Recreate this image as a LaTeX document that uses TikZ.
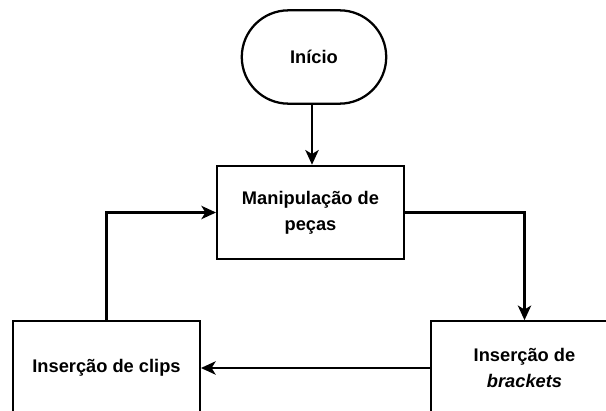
\documentclass[tikz,border=0pt]{standalone}
\usepackage{fontspec}
\setmainfont{Liberation Sans}
\usepackage{tikz}
\usetikzlibrary{shapes.misc,arrows.meta}

\begin{document}
\begin{tikzpicture}[x=0.75pt, y=-0.75pt,
    box/.style={shape=rectangle, draw, line width=1.7pt, minimum width=140pt, minimum height=70pt, align=center, font=\fontsize{13.7}{19.5}\selectfont\bfseries},
    term/.style={shape=rounded rectangle, draw, line width=1.7pt, minimum width=115pt, minimum height=70pt, font=\fontsize{13.7}{19.5}\selectfont\bfseries},
    flow/.style={line width=1.7pt, -{Stealth[length=11pt, width=10pt, inset=3pt]}}]
    \useasboundingbox (0,0) rectangle (606,410);
    \clip (0,0) rectangle (606,410);

    \node[term] (start) at (314,57) {Início};
    \node[box] (manip) at (310.5,212.5) {Manipulação de\\peças};
    \node[box] (brackets) at (524.5,368) {Inserção de\\\textit{brackets}};
    \node[box] (clips) at (106.5,368) {Inserção de clips};

    \draw[flow] (start.south -| 312,0) -- (manip.north -| 312,0);
    \draw[flow] (manip.east) -| (brackets.north);
    \draw[flow] (brackets.west) -- (clips.east);
    \draw[flow] (clips.north) |- (manip.west);
\end{tikzpicture}
\end{document}
